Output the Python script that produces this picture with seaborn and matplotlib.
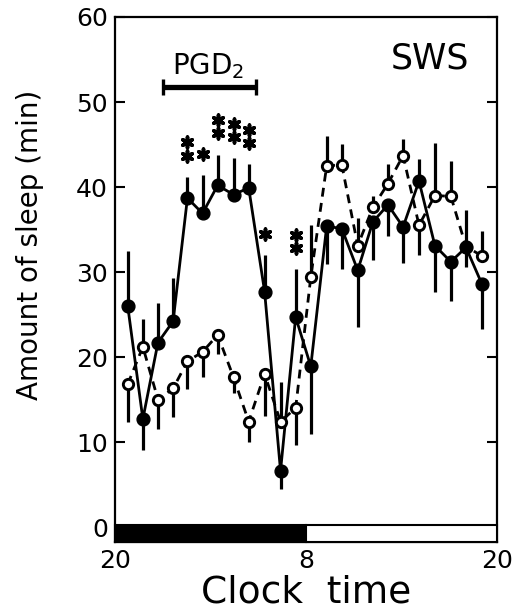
import matplotlib
matplotlib.use("Agg")
import matplotlib.pyplot as plt
import numpy as np
import pandas as pd
import seaborn as sns
from matplotlib.patches import Rectangle

# ---------------- data ----------------
hours = [0.8, 1.75, 2.7, 3.65, 4.55, 5.5, 6.45, 7.45, 8.4, 9.4, 10.4, 11.35,
         12.3, 13.3, 14.25, 15.25, 16.2, 17.15, 18.1, 19.1, 20.1, 21.1, 22.05, 23.05]

pgd_values = [26.0, 12.7, 21.7, 24.2, 38.7, 36.9, 40.2, 39.1, 39.9, 27.7, 6.6, 24.7,
              18.9, 35.4, 35.1, 30.2, 35.9, 37.9, 35.3, 40.7, 33.1, 31.2, 32.9, 28.6]
# signed one-sided SEM (positive: drawn upward, negative: drawn downward)
pgd_sem = [6.5, -3.6, 4.7, 5.1, 2.5, 4.5, 3.6, 4.3, 2.8, 4.3, -2.1, 5.6,
           -7.9, -4.4, -4.8, -6.7, -4.5, -3.7, -4.2, 2.6, -5.4, -4.6, 4.4, -5.3]

veh_values = [16.8, 21.2, 15.0, 16.3, 19.5, 20.6, 22.6, 17.6, 12.4, 18.0, 12.4, 14.0,
              29.4, 42.5, 42.6, 33.1, 37.6, 40.4, 43.7, 35.5, 39.0, 38.9, 33.0, 31.9]
veh_sem = [-4.5, 3.3, -3.5, -3.3, -3.3, -2.9, -2.2, -1.8, -2.4, -4.9, 4.7, -4.4,
           6.1, 3.5, 2.5, 3.3, 1.4, 2.3, 1.9, -3.5, 6.2, 4.2, -2.4, 2.9]

significance = [0, 0, 0, 0, 2, 1, 2, 2, 2, 1, 0, 2,
                0, 0, 0, 0, 0, 0, 0, 0, 0, 0, 0, 0]

xtick_hours = [0, 12, 24]
xtick_labels = ["20", "8", "20"]
ytick_values = [0, 10, 20, 30, 40, 50, 60]
dark_period = [0, 12]
light_period = [12, 24]
pgd_infusion = [3.0, 8.85]

# ---------------- figure ----------------
sns.set_style("ticks")
plt.rcParams['font.family'] = ['DejaVu Sans']
plt.rcParams['mathtext.fontset'] = 'dejavusans'
for k in ["text.color", "axes.labelcolor", "xtick.color", "ytick.color", "axes.edgecolor"]:
    plt.rcParams[k] = "black"

fig = plt.figure(figsize=(5.30, 6.14), dpi=100)
ax = fig.add_axes([115/530, 1-542/614, 382/530, 525/614])

df = pd.DataFrame({
    "hour": hours * 2,
    "value": pgd_values + veh_values,
    "group": ["PGD2"] * len(hours) + ["Vehicle"] * len(hours),
})

sns.lineplot(data=df, x="hour", y="value", style="group",
             dashes={"PGD2": "", "Vehicle": (3.2, 2.3)},
             color="black", linewidth=2.0, estimator=None, sort=False,
             legend=False, ax=ax, zorder=2)

# one-sided error bars
pv = np.array(pgd_values); ps = np.array(pgd_sem)
vv = np.array(veh_values); vs = np.array(veh_sem)
hx = np.array(hours)
ax.vlines(hx, vv, vv + vs, color="black", linewidth=2.3, zorder=2)
ax.vlines(hx, pv, pv + ps, color="black", linewidth=2.3, zorder=2)

# markers
sns.scatterplot(x=hours, y=veh_values, marker="o", s=55, facecolor="white",
                edgecolor="black", linewidth=2.1, ax=ax, zorder=3, legend=False)
sns.scatterplot(x=hours, y=pgd_values, marker="o", s=85, color="black",
                edgecolor="black", linewidth=1, ax=ax, zorder=4, legend=False)

# significance asterisks
sx, sy = [], []
for h, v, e, n in zip(hours, pgd_values, pgd_sem, significance):
    top = max(v, v + e)
    for k in range(n):
        sx.append(h)
        sy.append(top + 2.5 + 1.55 * k)
ax.scatter(sx, sy, marker=(6, 2, 0), s=60, color="black", linewidths=2.6, zorder=5)

# PGD2 infusion bar
ybar = 51.8
ax.plot(pgd_infusion, [ybar, ybar], color="black", linewidth=3.8,
        solid_capstyle="butt", zorder=5)
ax.vlines(pgd_infusion, ybar - 0.95, ybar + 0.95, color="black", linewidth=2.4, zorder=5)
ax.text(np.mean(pgd_infusion) - 0.05, 53.3, "PGD$_2$", ha="center", va="baseline",
        fontsize=20)
ax.text(19.8, 53.9, "SWS", ha="center", va="baseline", fontsize=25)

# light/dark bar
ybot = -1.76
ax.add_patch(Rectangle((dark_period[0], ybot), dark_period[1] - dark_period[0], 1.96,
                       facecolor="black", edgecolor="black", linewidth=1.5,
                       zorder=6, clip_on=False))
ax.add_patch(Rectangle((light_period[0], ybot), light_period[1] - light_period[0], 1.96,
                       facecolor="white", edgecolor="black", linewidth=1.5,
                       zorder=6, clip_on=False))

ax.set_xlim(0, 24)
ax.set_ylim(ybot, 60)
ax.set_xticks(xtick_hours)
ax.set_xticklabels(xtick_labels)
ax.set_yticks(ytick_values)
ax.set_yticklabels([str(v) for v in ytick_values])
ax.tick_params(axis="y", direction="in", length=7, width=1.5, left=True, right=True,
               labelsize=18, pad=5)
ax.tick_params(axis="x", length=0, labelsize=18, pad=5)

for sp in ax.spines.values():
    sp.set_visible(True)
    sp.set_linewidth(1.6)
    sp.set_color("black")

ax.set_xlabel("Clock  time", fontsize=27)
ax.xaxis.set_label_coords(0.5, -0.062)
ax.set_ylabel("Amount of sleep (min)", fontsize=20)
ax.yaxis.set_label_coords(-0.185, 0.566)

fig.savefig("out.png", dpi=100)
